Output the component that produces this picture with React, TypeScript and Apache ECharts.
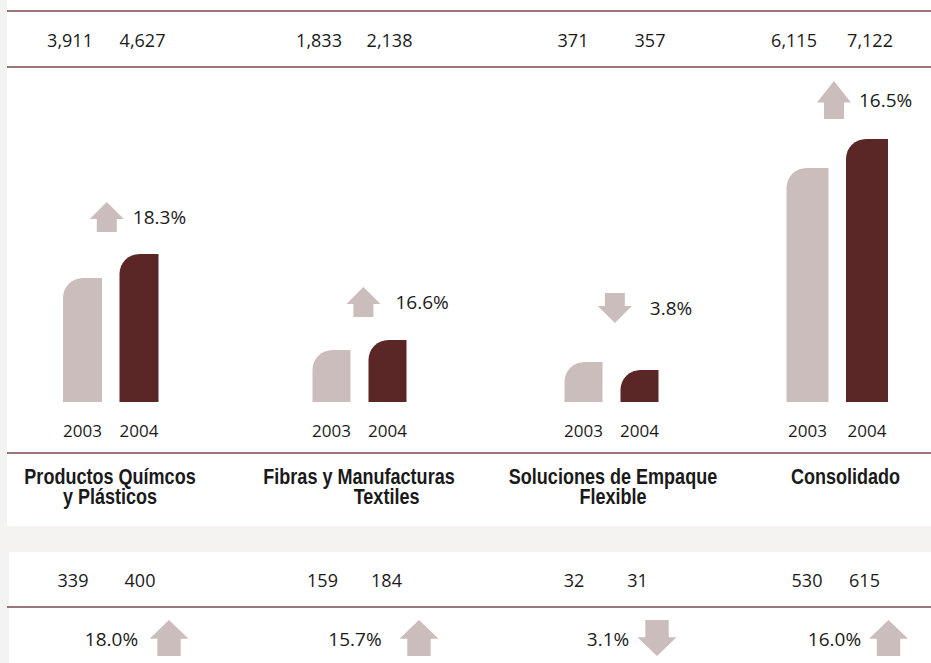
import React, { useEffect, useRef } from "react";
import * as echarts from "echarts";

// ---------- data ----------
const segments = [
  "Productos Químcos\ny Plásticos",
  "Fibras y Manufacturas\n           Textiles",
  "Soluciones de Empaque\nFlexible",
  "Consolidado",
];
const years = ["2003", "2004"];

// top row (ventas)
const topValues2003 = [3911, 1833, 371, 6115];
const topValues2004 = [4627, 2138, 357, 7122];
const topChange = ["18.3%", "16.6%", "3.8%", "16.5%"];
const topDirection = ["up", "up", "down", "up"];

// bar heights as drawn in the picture (arbitrary drawing units)
const barLevel2003 = [124, 52, 40, 234];
const barLevel2004 = [148, 62, 32, 263];
const arrowLevel = [185, 100, 94, 302];

// bottom row
const bottomValues2003 = [339, 159, 32, 530];
const bottomValues2004 = [400, 184, 31, 615];
const bottomChange = ["18.0%", "15.7%", "3.1%", "16.0%"];
const bottomDirection = ["up", "up", "down", "up"];

// ---------- layout ----------
const W = 931;
const H = 663;
const LIGHT = "#cbbdbb";
const DARK = "#5a2626";
const RULE = "#7b4a4a";
const BG = "#f4f3f1";
const INK = "#1a1a1a";
const NUM_FONT = "'Open Sans', 'Noto Sans', sans-serif";
const CAT_FONT = "'Liberation Sans', Arial, sans-serif";

const barCenters = [
  [82.5, 139],
  [331.5, 387.5],
  [583.5, 639.5],
  [807.5, 867],
];
const barWidths = [39, 38, 38, 42];
const arrowSizes = [
  [34, 30],
  [34, 30],
  [34, 30],
  [34, 38],
];
const arrowXPos = [0.93, 1.07, 1.06, 0.945];
const labelGaps = [9, 15, 18, 8];
const topNumX = [
  [70, 142.5],
  [319, 389.5],
  [573, 650],
  [794, 870],
];
const bottomNumX = [
  [73, 140],
  [322.5, 386.5],
  [574, 637.5],
  [807, 864.5],
];
const catX = [110, 359, 613, 845.5];
const pctX = [111.5, 355, 608, 834.5];
const pctArrowX = [169, 419, 657, 888.5];

const Y_MAX = 330;
const BASE_Y = 402;

const UP_PATH = "path://M17,0 L34,17 L27,17 L27,30 L7,30 L7,17 L0,17 Z";
const DOWN_PATH = "path://M7,0 L27,0 L27,13 L34,13 L17,30 L0,13 L7,13 Z";

const fmt = (n: number) => n.toLocaleString("en-US");

function arrowPoints(cx: number, cy: number, w: number, h: number, dir: string) {
  const hw = w / 2;
  const sw = w * 0.3;
  const headH = h * 0.52;
  const top = cy - h / 2;
  const bot = cy + h / 2;
  if (dir === "up") {
    return [
      [cx, top],
      [cx + hw, top + headH],
      [cx + sw, top + headH],
      [cx + sw, bot],
      [cx - sw, bot],
      [cx - sw, top + headH],
      [cx - hw, top + headH],
    ];
  }
  return [
    [cx - sw, top],
    [cx + sw, top],
    [cx + sw, bot - headH],
    [cx + hw, bot - headH],
    [cx, bot],
    [cx - hw, bot - headH],
    [cx - sw, bot - headH],
  ];
}

function txt(
  text: string,
  x: number,
  y: number,
  size: number,
  family: string,
  weight: any = "normal",
  lineHeight?: number,
  scaleX = 1,
  vAlign = "middle"
) {
  return {
    type: "text",
    x,
    y,
    z: 10,
    scaleX,
    style: {
      text,
      fill: INK,
      fontSize: size,
      fontFamily: family,
      fontWeight: weight,
      align: "center",
      verticalAlign: vAlign,
      lineHeight: lineHeight || size * 1.2,
    },
  };
}

export default function App() {
  const ref = useRef<HTMLDivElement>(null);

  useEffect(() => {
    document.body.style.margin = "0";
    if (!ref.current) return;
    const chart = echarts.init(ref.current, null, { renderer: "svg" });

    const grids: any[] = [];
    const xAxes: any[] = [];
    const yAxes: any[] = [];
    const series: any[] = [];

    segments.forEach((_, i) => {
      const [c0, c1] = barCenters[i];
      const band = c1 - c0;
      grids.push({
        left: c0 - band / 2,
        width: band * 2,
        top: BASE_Y - Y_MAX,
        height: Y_MAX,
        containLabel: false,
      });
      xAxes.push({
        type: "category",
        gridIndex: i,
        data: years,
        axisLine: { show: false },
        axisTick: { show: false },
        axisLabel: {
          show: true,
          margin: 20,
          fontSize: 17,
          fontFamily: NUM_FONT,
          color: INK,
        },
      });
      xAxes.push({
        type: "value",
        gridIndex: i,
        min: 0,
        max: 2,
        show: false,
      });
      yAxes.push({
        type: "value",
        gridIndex: i,
        min: 0,
        max: Y_MAX,
        show: false,
        splitLine: { show: false },
      });
      series.push({
        type: "bar",
        xAxisIndex: i * 2,
        yAxisIndex: i,
        barWidth: barWidths[i],
        data: [
          { value: barLevel2003[i], itemStyle: { color: LIGHT, borderRadius: [20, 0, 0, 0] } },
          { value: barLevel2004[i], itemStyle: { color: DARK, borderRadius: [20, 0, 0, 0] } },
        ],
      });
      series.push({
        type: "scatter",
        xAxisIndex: i * 2 + 1,
        yAxisIndex: i,
        clip: false,
        symbol: topDirection[i] === "up" ? UP_PATH : DOWN_PATH,
        symbolSize: arrowSizes[i],
        itemStyle: { color: LIGHT, opacity: 1 },
        label: {
          show: true,
          position: "right",
          distance: labelGaps[i],
          formatter: topChange[i],
          fontSize: 19,
          fontFamily: NUM_FONT,
          color: INK,
        },
        data: [[arrowXPos[i], arrowLevel[i]]],
      });
    });

    const graphic: any[] = [
      { type: "rect", z: -10, shape: { x: 7, y: 0, width: W - 7, height: 526 }, style: { fill: "#ffffff" } },
      { type: "rect", z: -10, shape: { x: 9, y: 552, width: W - 9, height: H - 552 }, style: { fill: "#ffffff" } },
    ];
    [11, 67, 453, 607].forEach((y) => {
      graphic.push({
        type: "line",
        z: 5,
        shape: { x1: 7, y1: y, x2: W, y2: y },
        style: { stroke: RULE, lineWidth: 1.6 },
      });
    });
    segments.forEach((name, i) => {
      graphic.push(txt(fmt(topValues2003[i]), topNumX[i][0], 40, 18, NUM_FONT));
      graphic.push(txt(fmt(topValues2004[i]), topNumX[i][1], 40, 18, NUM_FONT));
      graphic.push(txt(name, catX[i], 466, 22, CAT_FONT, "bold", 20, 0.82, "top"));
      graphic.push(txt(fmt(bottomValues2003[i]), bottomNumX[i][0], 580, 18, NUM_FONT));
      graphic.push(txt(fmt(bottomValues2004[i]), bottomNumX[i][1], 580, 18, NUM_FONT));
      graphic.push(txt(bottomChange[i], pctX[i], 639, 19, NUM_FONT));
      graphic.push({
        type: "polygon",
        z: 5,
        shape: { points: arrowPoints(pctArrowX[i], 638, 39, 36, bottomDirection[i]) },
        style: { fill: LIGHT },
      });
    });

    chart.setOption({
      animation: false,
      backgroundColor: BG,
      grid: grids,
      xAxis: xAxes,
      yAxis: yAxes,
      series,
      graphic,
    });

    return () => chart.dispose();
  }, []);

  return <div ref={ref} style={{ width: W, height: H }} />;
}
